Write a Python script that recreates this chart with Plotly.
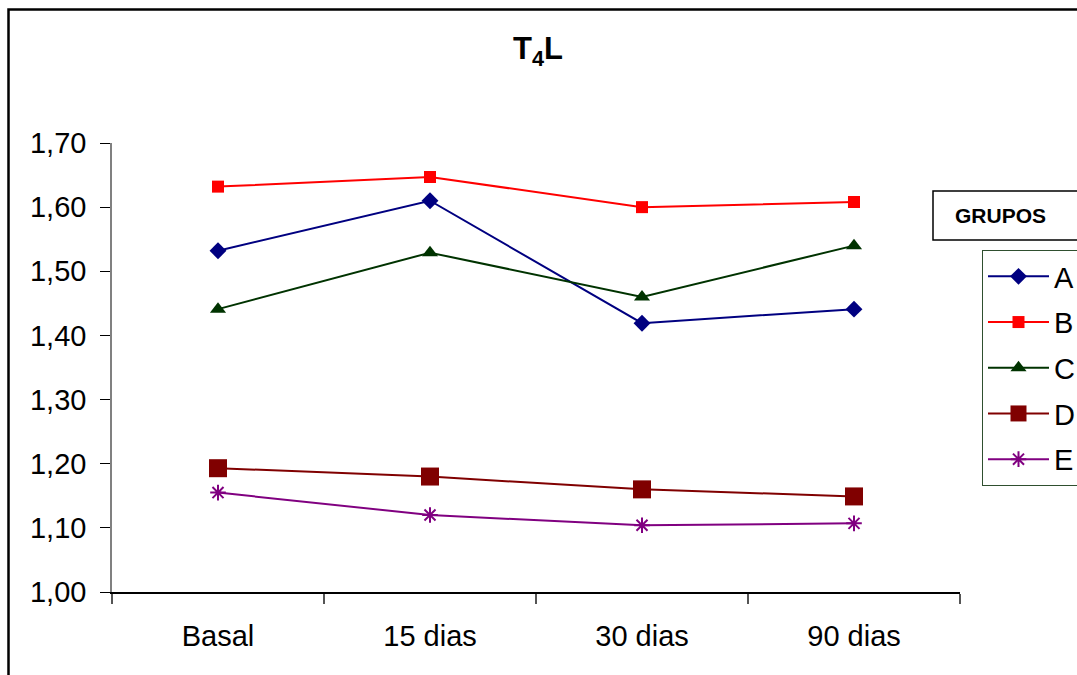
import plotly.graph_objects as go

categories = ["Basal", "15 dias", "30 dias", "90 dias"]
group_names = ["A", "B", "C", "D", "E"]
values_A = [1.532, 1.610, 1.419, 1.441]
values_B = [1.632, 1.647, 1.600, 1.608]
values_C = [1.441, 1.529, 1.460, 1.540]
values_D = [1.193, 1.180, 1.160, 1.149]
values_E = [1.155, 1.120, 1.104, 1.107]
y_ticks = [1.0, 1.1, 1.2, 1.3, 1.4, 1.5, 1.6, 1.7]

series = [values_A, values_B, values_C, values_D, values_E]
colors = ["#000080", "#FF0000", "#003300", "#800000", "#800080"]
symbols = ["diamond", "square", "triangle-up", "square", "asterisk-open"]
sizes = [13, 12, 14, 18, 13]

W, H = 1077, 675
L, R, T, B = 112, 960, 143, 592
pw, ph = R - L, B - T


def px(x):
    return (x - L) / pw


def py(y):
    return (B - y) / ph


FONT = "Liberation Sans, Arial, sans-serif"

fig = go.Figure()
for name, vals, c, s, sz in zip(group_names, series, colors, symbols, sizes):
    fig.add_trace(go.Scatter(
        x=categories, y=vals, name=name, mode="lines+markers",
        legendgroup=name,
        line=dict(color=c, width=2),
        marker=dict(symbol=s, size=sz, color=c,
                    line=dict(color=c, width=2 if s == "asterisk-open" else 0)),
    ))

fig.update_layout(
    width=W, height=H, autosize=False,
    margin=dict(l=L, r=W - R, t=T, b=H - B, pad=0),
    paper_bgcolor="white", plot_bgcolor="white",
    separators=", ",
    font=dict(family=FONT, size=29, color="black"),
    showlegend=True,
    legend=dict(
        xref="container", yref="container",
        x=982 / W, y=1 - 250 / H, xanchor="left", yanchor="top",
        bordercolor="#2f4f2f", borderwidth=1, bgcolor="white",
        font=dict(family=FONT, size=29, color="black"),
        tracegroupgap=5, itemwidth=61,
    ),
    xaxis=dict(
        type="category", range=[-0.5, 3.5], tickson="boundaries",
        showline=True, linecolor="black", linewidth=1.5,
        ticks="outside", ticklen=10, tickcolor="#555", tickwidth=1.5,
        showgrid=False, zeroline=False, ticklabelstandoff=17,
    ),
    yaxis=dict(
        range=[1.0, 1.7], tickvals=y_ticks, tickformat=".2f",
        showline=True, linecolor="#808080", linewidth=1.5,
        ticks="outside", ticklen=10, tickcolor="black", tickwidth=1,
        showgrid=False, zeroline=False, ticklabelstandoff=8,
    ),
    shapes=[
        dict(type="rect", xref="paper", yref="paper",
             x0=px(8.5), x1=px(1200), y0=py(800), y1=py(9.5),
             line=dict(color="black", width=2.5), fillcolor="rgba(0,0,0,0)", layer="below"),
        dict(type="rect", xref="paper", yref="paper",
             x0=px(933), x1=px(1200), y0=py(240), y1=py(191),
             line=dict(color="black", width=1.5), fillcolor="white"),
    ],
    annotations=[
        dict(text="<b>T<sub>4</sub>L</b>", xref="paper", yref="paper",
             x=px(538), y=py(51), xanchor="center", yanchor="middle",
             showarrow=False, font=dict(family=FONT, size=31, color="black")),
        dict(text="<b>GRUPOS</b>", xref="paper", yref="paper",
             x=px(1000), y=py(215.5), xanchor="center", yanchor="middle",
             showarrow=False, font=dict(family=FONT, size=21, color="black")),
    ],
)

fig.write_html("out.html")
